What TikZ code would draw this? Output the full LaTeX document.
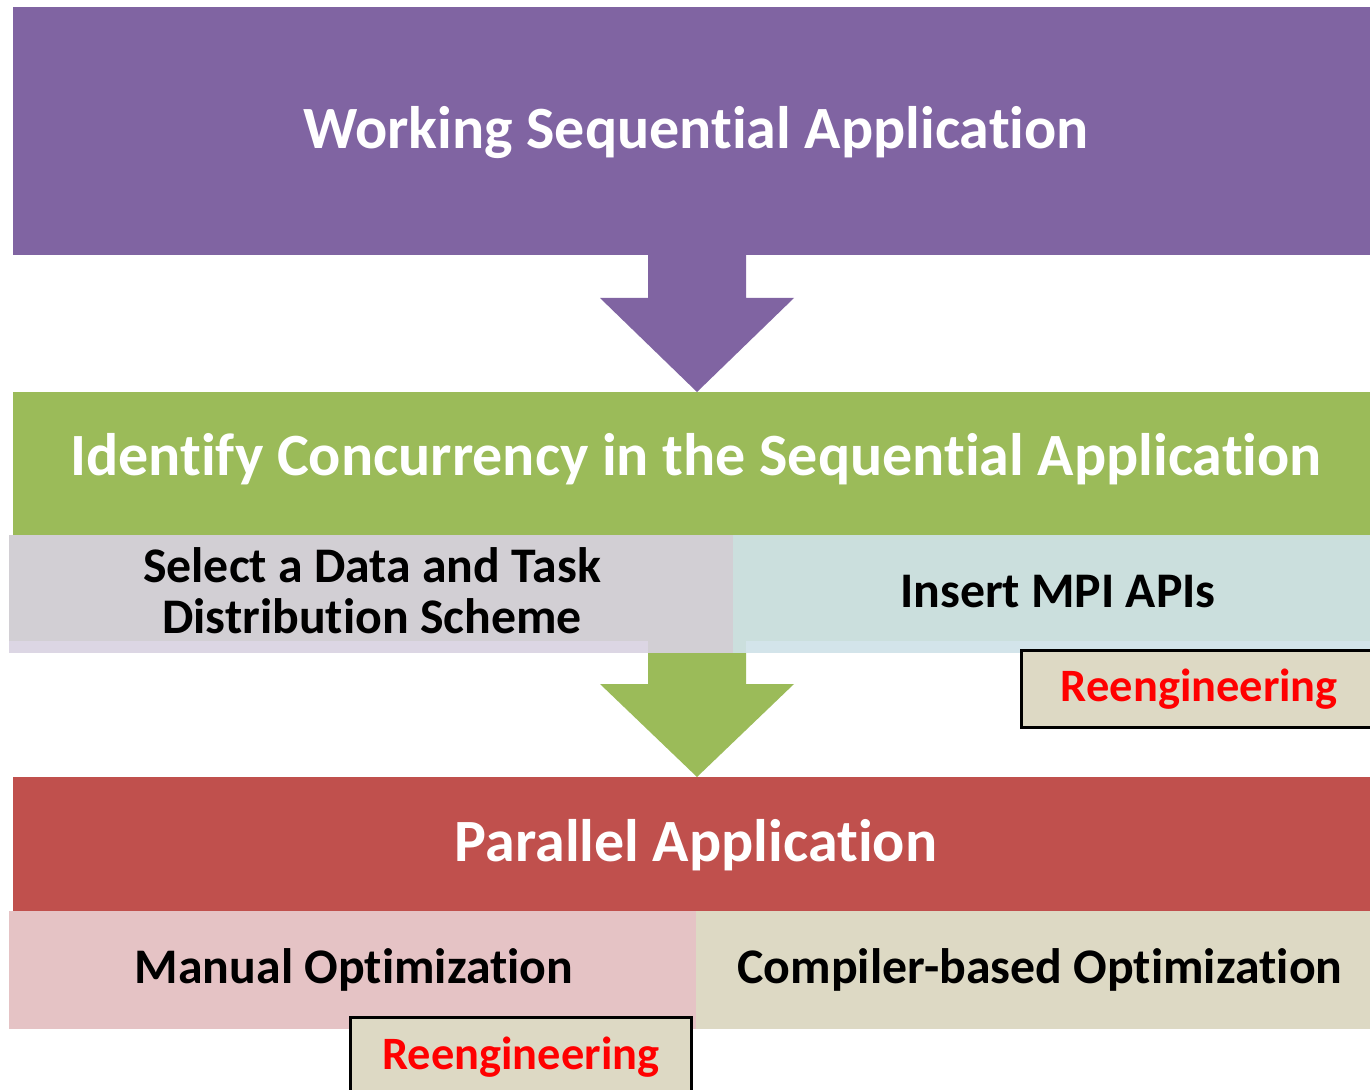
\documentclass[tikz,border=0pt]{standalone}
\usepackage{fontspec}
\setmainfont[Ligatures=CommonOff]{Carlito}
\usetikzlibrary{calc}
\definecolor{purp}{HTML}{8064A2}
\definecolor{grn}{HTML}{9BBB59}
\definecolor{redb}{HTML}{C0504D}
\definecolor{grayb}{HTML}{D2CFD4}
\definecolor{tealb}{HTML}{CBDFDD}
\definecolor{lav}{HTML}{DCD6E4}
\definecolor{lblue}{HTML}{D3E4EA}
\definecolor{pinkb}{HTML}{E5C3C5}
\definecolor{beige}{HTML}{DDD9C4}
\definecolor{reng}{HTML}{FF0000}
\newcommand\blk[6]{\node[boxstyle,fill=#2,minimum width={(#5-#3)*0.5pt},minimum height={(#6-#4)*0.5pt}] (#1) at (#3,#4) {};}
\begin{document}
\begin{tikzpicture}[x=0.5pt,y=-0.5pt,
  boxstyle/.style={rectangle,draw=none,inner sep=0pt,outer sep=0pt,anchor=north west},
  head/.style={text=white,font=\bfseries\fontsize{30}{35}\selectfont,inner sep=0pt},
  sub/.style={text=black,font=\bfseries\fontsize{24.9}{25.5}\selectfont,inner sep=0pt,align=center},
  rebox/.style={rectangle,draw=black,line width=1.4pt,fill=beige,inner sep=0pt,anchor=north west,
    text=reng,font=\bfseries\fontsize{23.2}{27}\selectfont}]
\useasboundingbox (0,0) rectangle (1370,1090);
\clip (0,0) rectangle (1370,1090);
\fill[white] (0,0) rectangle (1370,1090);
% boxes
\blk{wsa}{purp}{13}{7}{1370}{255}
\blk{ident}{grn}{13}{392}{1370}{535}
\blk{sel}{grayb}{9}{535}{733}{653}
\blk{mpi}{tealb}{733}{535}{1372}{653}
\blk{selstrip}{lav}{9}{641}{648}{653}
\blk{mpistrip}{lblue}{746}{641}{1372}{653}
\blk{par}{redb}{13}{777}{1370}{911}
\blk{man}{pinkb}{9}{911}{696}{1029}
\blk{comp}{beige}{696}{911}{1372}{1029}
% block arrows
\coordinate (a1s) at (697,255);
\coordinate (a1t) at (697,392);
\fill[purp] ($(a1s)+(-49,0)$) -- ($(a1s)+(49,0)$) -- ($(a1s)+(49,43)$) -- ($(a1s)+(97,43)$)
  -- (a1t) -- ($(a1s)+(-97,43)$) -- ($(a1s)+(-49,43)$) -- cycle;
\coordinate (a2s) at (697,653);
\coordinate (a2t) at (697,777);
\fill[grn] ($(a2s)+(-49,0)$) -- ($(a2s)+(49,0)$) -- ($(a2s)+(49,31)$) -- ($(a2s)+(97,31)$)
  -- (a2t) -- ($(a2s)+(-97,31)$) -- ($(a2s)+(-49,31)$) -- cycle;
% texts
\node[head] (twsa) at (696,133) {Working Sequential Application};
\node[head] (tident) at (696,459) {Identify Concurrency in the Sequential Application};
\node[sub] (tsel) at (372,591) {Select a Data and Task\\Distribution Scheme};
\node[sub] (tmpi) at (1058,592) {Insert MPI APIs};
\node[head] (tpar) at (696,845) {Parallel Application};
\node[sub] (tman) at (354,970) {Manual Optimization};
\node[sub] (tcomp) at (1040,970) {Compiler-based Optimization};
% reengineering boxes
\node[rebox,minimum width={(1376-1020)*0.5pt},minimum height={(726-649)*0.5pt}] (re1) at (1020,649) {Reengineering};
\node[rebox,minimum width={(690-349)*0.5pt},minimum height={(1096-1016)*0.5pt}] (re2) at (349,1016) {Reengineering};
\end{tikzpicture}
\end{document}
